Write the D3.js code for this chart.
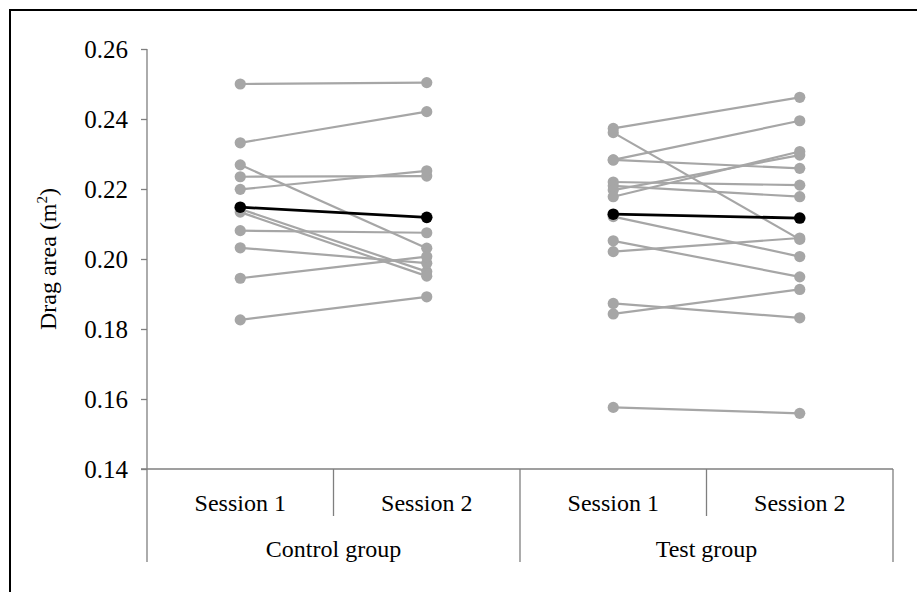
<!DOCTYPE html>
<html>
<head>
<meta charset="utf-8">
<script src="https://cdn.jsdelivr.net/npm/d3@7"></script>
<style>
  body { margin: 0; background: #fff; }
  svg text { font-family: "Liberation Serif", "Times New Roman", serif !important; fill: #000; }
</style>
</head>
<body>
<div id="chart"></div>
<script>
// individual subjects, session 1 -> session 2
var controlS1 = [0.2500, 0.2332, 0.2269, 0.2235, 0.2199, 0.2143, 0.2134, 0.2081, 0.2032, 0.1945, 0.1826];
var controlS2 = [0.2504, 0.2421, 0.2031, 0.2237, 0.2252, 0.1964, 0.1951, 0.2075, 0.1988, 0.2007, 0.1892];
var testS1 = [0.2373, 0.2361, 0.2283, 0.2283, 0.2220, 0.2209, 0.2197, 0.2178, 0.2121, 0.2052, 0.2021, 0.1873, 0.1843, 0.1576];
var testS2 = [0.2462, 0.2056, 0.2395, 0.2259, 0.2211, 0.2178, 0.2297, 0.2307, 0.2007, 0.1949, 0.2060, 0.1832, 0.1913, 0.1559];
// group means
var controlMean = [0.2148, 0.2119];
var testMean = [0.2128, 0.2117];

var sessions = ["Session 1", "Session 2"];
var groups = ["Control group", "Test group"];
var yTicks = [0.14, 0.16, 0.18, 0.20, 0.22, 0.24, 0.26];

var W = 917, H = 592;
var margin = {top: 49, left: 147, right: 24, bottom: 123};
var plotBottom = H - margin.bottom;
var fs = 24;

var svg = d3.select("#chart").append("svg").attr("width", W).attr("height", H);

// frame (left + top edges only visible)
svg.append("rect").attr("x", 10).attr("y", 10).attr("width", W + 20).attr("height", H + 20)
  .attr("fill", "none").attr("stroke", "#000").attr("stroke-width", 2);

var y = d3.scaleLinear().domain([0.14, 0.26]).range([plotBottom, margin.top]);
var xg = d3.scaleBand().domain(groups).range([margin.left, W - margin.right]);
var xs = d3.scaleBand().domain(sessions).range([0, xg.bandwidth()]);

var axisCol = "#7f7f7f";
var catBottom = 562, sessBottom = 516;

// y axis
var yAxis = svg.append("g").attr("transform", `translate(${margin.left},0)`)
  .call(d3.axisLeft(y).tickValues(yTicks).tickFormat(d3.format(".2f")).tickSize(6).tickSizeOuter(0))
  .attr("font-family", "Liberation Serif").attr("font-size", 25);
yAxis.select(".domain").remove();
yAxis.selectAll(".tick line").attr("stroke", axisCol).attr("stroke-width", 1.3);
yAxis.selectAll(".tick text").attr("x", -19);
svg.append("line").attr("x1", margin.left).attr("x2", margin.left)
  .attr("y1", margin.top).attr("y2", catBottom).attr("stroke", axisCol).attr("stroke-width", 1.3);

// y axis title
var yt = svg.append("text").attr("transform", `translate(56,${(margin.top + plotBottom) / 2}) rotate(-90)`)
  .attr("text-anchor", "middle").attr("font-size", 24);
yt.append("tspan").text("Drag area (m");
yt.append("tspan").attr("font-size", 15).attr("dy", -9).text("2");
yt.append("tspan").attr("dy", 9).text(")");

// category axis
svg.append("line").attr("x1", margin.left - 6).attr("x2", W - margin.right)
  .attr("y1", plotBottom).attr("y2", plotBottom).attr("stroke", axisCol).attr("stroke-width", 1.3);
groups.forEach(function(g) {
  var gx = xg(g);
  svg.append("line").attr("x1", gx + xg.bandwidth()).attr("x2", gx + xg.bandwidth())
    .attr("y1", plotBottom).attr("y2", catBottom).attr("stroke", axisCol).attr("stroke-width", 1.3);
  svg.append("line").attr("x1", gx + xs("Session 2")).attr("x2", gx + xs("Session 2"))
    .attr("y1", plotBottom).attr("y2", sessBottom).attr("stroke", axisCol).attr("stroke-width", 1.3);
  sessions.forEach(function(s) {
    svg.append("text").attr("x", gx + xs(s) + xs.bandwidth() / 2).attr("y", 511)
      .attr("text-anchor", "middle").attr("font-size", fs).text(s);
  });
  svg.append("text").attr("x", gx + xg.bandwidth() / 2).attr("y", 557)
    .attr("text-anchor", "middle").attr("font-size", fs).text(g);
});

function cx(g, s) { return xg(g) + xs(s) + xs.bandwidth() / 2; }

function drawGroup(g, s1, s2, mean) {
  var pairs = s1.map(function(v, i) { return [v, s2[i]]; });
  var grp = svg.append("g");
  grp.selectAll(".subj").data(pairs).join("line").attr("class", "subj")
    .attr("x1", cx(g, sessions[0])).attr("x2", cx(g, sessions[1]))
    .attr("y1", d => y(d[0])).attr("y2", d => y(d[1]))
    .attr("stroke", "#a6a6a6").attr("stroke-width", 2.2);
  pairs.forEach(function(d) {
    grp.append("circle").attr("cx", cx(g, sessions[0])).attr("cy", y(d[0])).attr("r", 5.6).attr("fill", "#a6a6a6");
    grp.append("circle").attr("cx", cx(g, sessions[1])).attr("cy", y(d[1])).attr("r", 5.6).attr("fill", "#a6a6a6");
  });
  grp.append("line").attr("x1", cx(g, sessions[0])).attr("x2", cx(g, sessions[1]))
    .attr("y1", y(mean[0])).attr("y2", y(mean[1])).attr("stroke", "#000").attr("stroke-width", 2.8);
  mean.forEach(function(v, i) {
    grp.append("circle").attr("cx", cx(g, sessions[i])).attr("cy", y(v)).attr("r", 5.8).attr("fill", "#000");
  });
}

drawGroup(groups[0], controlS1, controlS2, controlMean);
drawGroup(groups[1], testS1, testS2, testMean);
</script>
</body>
</html>
